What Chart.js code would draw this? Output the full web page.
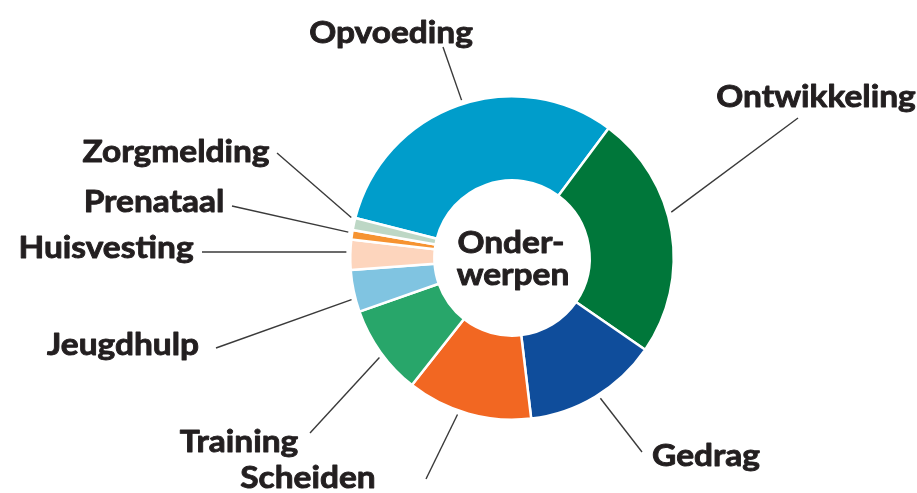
<!DOCTYPE html>
<html>
<head>
<meta charset="utf-8">
<script src="https://cdn.jsdelivr.net/npm/chart.js@4/dist/chart.umd.min.js"></script>
<style>
  html, body { margin: 0; padding: 0; background: #ffffff; }
  #wrap { position: relative; width: 917px; height: 493px; }
</style>
</head>
<body>
<div id="wrap"><canvas id="c"></canvas></div>
<script>
// ---- data ----
const categories = ['Opvoeding', 'Ontwikkeling', 'Gedrag', 'Scheiden', 'Training', 'Jeugdhulp', 'Huisvesting', 'Prenataal', 'Zorgmelding'];
const shares = [31.2, 24.4, 13.5, 12.5, 9.0, 4.2, 3.0, 0.95, 1.2];
const sliceColors = ['#009dcb', '#00773a', '#0f4d9b', '#f26722', '#28a66a', '#80c4e1', '#fdd5bd', '#f69331', '#bdd7c5'];
const centerLines = ['Onder-', 'werpen'];

// ---- label layout (text centre x, baseline y, leader outer end, angle nudge in degrees) ----
const labelLayout = [
  { cx: 391, by: 43,  ex: 443, ey: 47,  nudge: 1.8 },
  { cx: 816, by: 107, ex: 798, ey: 118, nudge: -6.7 },
  { cx: 706, by: 466, ex: 642, ey: 452, nudge: -1.1 },
  { cx: 308, by: 488, ex: 426, ey: 479, nudge: 3.5 },
  { cx: 239, by: 452, ex: 310, ey: 433, nudge: -1.3 },
  { cx: 123, by: 355, ex: 216, ey: 348, nudge: -2.7 },
  { cx: 106, by: 258, ex: 202, ey: 252, nudge: 0.9 },
  { cx: 154, by: 212, ex: 232, ey: 206, nudge: 0.7 },
  { cx: 176, by: 162, ex: 277, ey: 153, nudge: 2.0 }
];
const FONT = '700 31px Lato, "Open Sans", sans-serif';
const TEXT_COLOR = '#231f20';
const TEXT_STRETCH = 1.08;

function drawText(ctx, txt, x, y) {
  ctx.save();
  ctx.translate(x, y);
  ctx.scale(TEXT_STRETCH, 1);
  ctx.fillText(txt, 0, 0);
  ctx.strokeText(txt, 0, 0);
  ctx.restore();
}

const labelsPlugin = {
  id: 'calloutLabels',
  afterDraw(chart) {
    const ctx = chart.ctx;
    const arcs = chart.getDatasetMeta(0).data;
    ctx.save();
    ctx.strokeStyle = '#3a3a3a';
    ctx.lineWidth = 1.4;
    arcs.forEach((arc, i) => {
      const p = arc.getProps(['x', 'y', 'startAngle', 'endAngle', 'outerRadius'], true);
      const lay = labelLayout[i];
      const a = (p.startAngle + p.endAngle) / 2 + lay.nudge * Math.PI / 180;
      const r = p.outerRadius + 4;
      const sx = p.x + Math.cos(a) * r;
      const sy = p.y + Math.sin(a) * r;
      ctx.beginPath();
      ctx.moveTo(sx, sy);
      ctx.lineTo(lay.ex, lay.ey);
      ctx.stroke();
    });
    ctx.fillStyle = TEXT_COLOR;
    ctx.strokeStyle = TEXT_COLOR;
    ctx.lineWidth = 0.9;
    ctx.lineJoin = 'round';
    ctx.font = FONT;
    ctx.textAlign = 'center';
    ctx.textBaseline = 'alphabetic';
    categories.forEach((name, i) => {
      const lay = labelLayout[i];
      drawText(ctx, name, lay.cx, lay.by);
    });
    // centre text
    const c = arcs[0].getProps(['x', 'y'], true);
    drawText(ctx, centerLines[0], c.x - 1, c.y - 5);
    drawText(ctx, centerLines[1], c.x + 1, c.y + 27);
    ctx.restore();
  }
};

new Chart(document.getElementById('c'), {
  type: 'doughnut',
  data: {
    labels: categories,
    datasets: [{
      data: shares,
      backgroundColor: sliceColors,
      borderColor: '#ffffff',
      borderWidth: 2.5,
      hoverOffset: 0
    }]
  },
  options: {
    responsive: true,
    maintainAspectRatio: false,
    animation: false,
    rotation: -75.7,
    cutout: '48%',
    layout: { padding: { top: 95, bottom: 72, left: 349, right: 242 } },
    plugins: {
      legend: { display: false },
      tooltip: { enabled: false },
      title: { display: false }
    }
  },
  plugins: [labelsPlugin]
});
</script>
</body>
</html>
